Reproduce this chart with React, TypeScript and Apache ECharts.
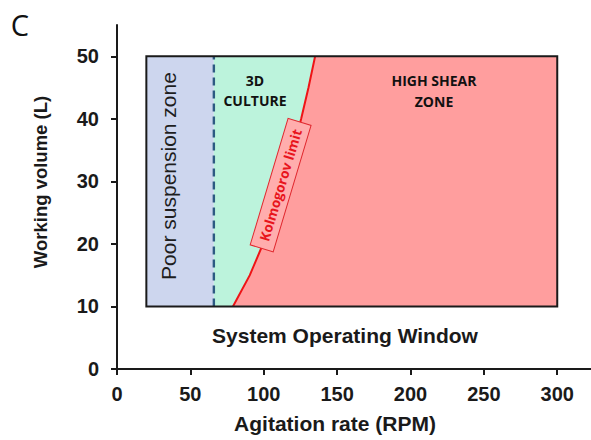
import React, { useEffect, useRef } from "react";
import * as echarts from "echarts";

// ---- data ----
const xTicks = [0, 50, 100, 150, 200, 250, 300];
const yTicks = [0, 10, 20, 30, 40, 50];
const windowX = [20, 300]; // System Operating Window, RPM
const windowY = [10, 50]; // System Operating Window, L
const suspensionLimitRPM = 66; // poor suspension boundary
const kolmogorovVolume = [10, 15, 20, 25, 30, 35, 40, 45, 50];
const kolmogorovRPM = [79, 90.5, 99.5, 107, 114, 120, 125.5, 130.5, 135];
const kolmogorovLabelAt = [111.5, 29.4];

const AXIS_FONT = '"Liberation Sans", Arial, sans-serif';
const CAL_FONT = '"Open Sans", "Noto Sans", sans-serif';
const INK = "#1a1a1a";

const centered = {
  align: "center",
  verticalAlign: "middle",
  textAlign: "center",
  textVerticalAlign: "middle",
};

export default function App() {
  const ref = useRef<HTMLDivElement>(null);
  useEffect(() => {
    if (!ref.current) return;
    const chart = echarts.init(ref.current, undefined, { renderer: "svg" });
    const curve = kolmogorovVolume.map((v, i) => [kolmogorovRPM[i], v]);
    const option: any = {
      animation: false,
      backgroundColor: "#ffffff",
      grid: { left: 117, right: 0, top: 25, bottom: 71 },
      xAxis: {
        type: "value",
        min: 0,
        max: 323,
        interval: 50,
        splitLine: { show: false },
        axisLine: { lineStyle: { color: INK, width: 2 } },
        axisTick: { show: true, length: 6, lineStyle: { color: INK, width: 2 }, customValues: xTicks },
        axisLabel: {
          customValues: xTicks,
          margin: 15,
          color: INK,
          fontSize: 20,
          fontWeight: "bold",
          fontFamily: AXIS_FONT,
        },
      },
      yAxis: {
        type: "value",
        min: 0,
        max: 55,
        interval: 10,
        splitLine: { show: false },
        axisLine: { show: true, lineStyle: { color: INK, width: 2 } },
        axisTick: { show: true, length: 6, lineStyle: { color: INK, width: 2 }, customValues: yTicks },
        axisLabel: {
          customValues: yTicks,
          margin: 18,
          color: INK,
          fontSize: 20,
          fontWeight: "bold",
          fontFamily: AXIS_FONT,
        },
      },
      series: [
        {
          type: "custom",
          silent: true,
          clip: false,
          z: 2,
          data: [[windowX[0], windowY[0]]],
          renderItem: (_params: any, api: any) => {
            const c = (x: number, y: number) => api.coord([x, y]);
            const [x0, x1] = windowX;
            const [y0, y1] = windowY;
            const curvePts = curve.map((p) => c(p[0], p[1]));
            const bluePts = [c(x0, y0), c(suspensionLimitRPM, y0), c(suspensionLimitRPM, y1), c(x0, y1)];
            const greenPts = [c(suspensionLimitRPM, y0), ...curvePts, c(suspensionLimitRPM, y1)];
            const redPts = [...curvePts, c(x1, y1), c(x1, y0)];
            const tl = c(x0, y1);
            const br = c(x1, y0);
            const lab = c(kolmogorovLabelAt[0], kolmogorovLabelAt[1]);
            return {
              type: "group",
              children: [
                { type: "polygon", shape: { points: bluePts }, style: { fill: "#cdd6ee", stroke: "none" } },
                { type: "polygon", shape: { points: greenPts }, style: { fill: "#bcf3dc", stroke: "none" } },
                { type: "polygon", shape: { points: redPts }, style: { fill: "#ff9e9e", stroke: "none" } },
                {
                  type: "line",
                  shape: { x1: bluePts[1][0], y1: bluePts[1][1], x2: bluePts[2][0], y2: bluePts[2][1] },
                  style: { stroke: "#2c5a82", lineWidth: 2.4, lineDash: [8, 5], fill: "none" },
                },
                { type: "polyline", shape: { points: curvePts }, style: { stroke: "#ee1416", lineWidth: 2, fill: "none" } },
                {
                  type: "rect",
                  shape: { x: tl[0], y: tl[1], width: br[0] - tl[0], height: br[1] - tl[1] },
                  style: { fill: "none", stroke: INK, lineWidth: 2 },
                },
                {
                  type: "group",
                  x: lab[0],
                  y: lab[1],
                  rotation: (73.3 * Math.PI) / 180,
                  children: [
                    {
                      type: "rect",
                      shape: { x: -66, y: -12, width: 132, height: 24 },
                      style: { fill: "#ffadad", stroke: "#e0282e", lineWidth: 1 },
                    },
                    {
                      type: "text",
                      style: {
                        x: 0,
                        y: 0,
                        text: "Kolmogorov limit",
                        fill: "#e8141c",
                        font: 'bold 13.5px "Open Sans", sans-serif',
                        ...centered,
                      },
                    },
                  ],
                },
              ],
            };
          },
        },
      ],
      graphic: [
        {
          type: "text",
          z: 100,
          x: 20,
          y: 24,
          style: { text: "C", fill: "#111", font: `29px ${CAL_FONT}`, ...centered },
        },
        {
          type: "text",
          z: 100,
          x: 168,
          y: 176,
          rotation: Math.PI / 2,
          style: { text: "Poor suspension zone", fill: "#1e1e1e", font: `21px ${AXIS_FONT}`, ...centered },
        },
        {
          type: "text",
          z: 100,
          x: 255,
          y: 90,
          style: { text: "3D\nCULTURE", fill: "#111", font: `bold 14px ${CAL_FONT}`, lineHeight: 20, ...centered },
        },
        {
          type: "text",
          z: 100,
          x: 434,
          y: 91,
          style: { text: "HIGH SHEAR\nZONE", fill: "#111", font: `bold 14px ${CAL_FONT}`, lineHeight: 21, ...centered },
        },
        {
          type: "text",
          z: 100,
          x: 345,
          y: 335,
          style: { text: "System Operating Window", fill: INK, font: `bold 21px ${AXIS_FONT}`, ...centered },
        },
        {
          type: "text",
          z: 100,
          x: 335,
          y: 423,
          style: { text: "Agitation rate (RPM)", fill: INK, font: `bold 21px ${AXIS_FONT}`, ...centered },
        },
        {
          type: "text",
          z: 100,
          x: 40,
          y: 182,
          rotation: Math.PI / 2,
          style: { text: "Working volume (L)", fill: INK, font: `bold 18.5px ${AXIS_FONT}`, ...centered },
        },
      ],
    };
    chart.setOption(option);
    return () => chart.dispose();
  }, []);
  return (
    <div
      ref={ref}
      style={{ position: "fixed", left: 0, top: 0, width: 591, height: 440, background: "#fff" }}
    />
  );
}
